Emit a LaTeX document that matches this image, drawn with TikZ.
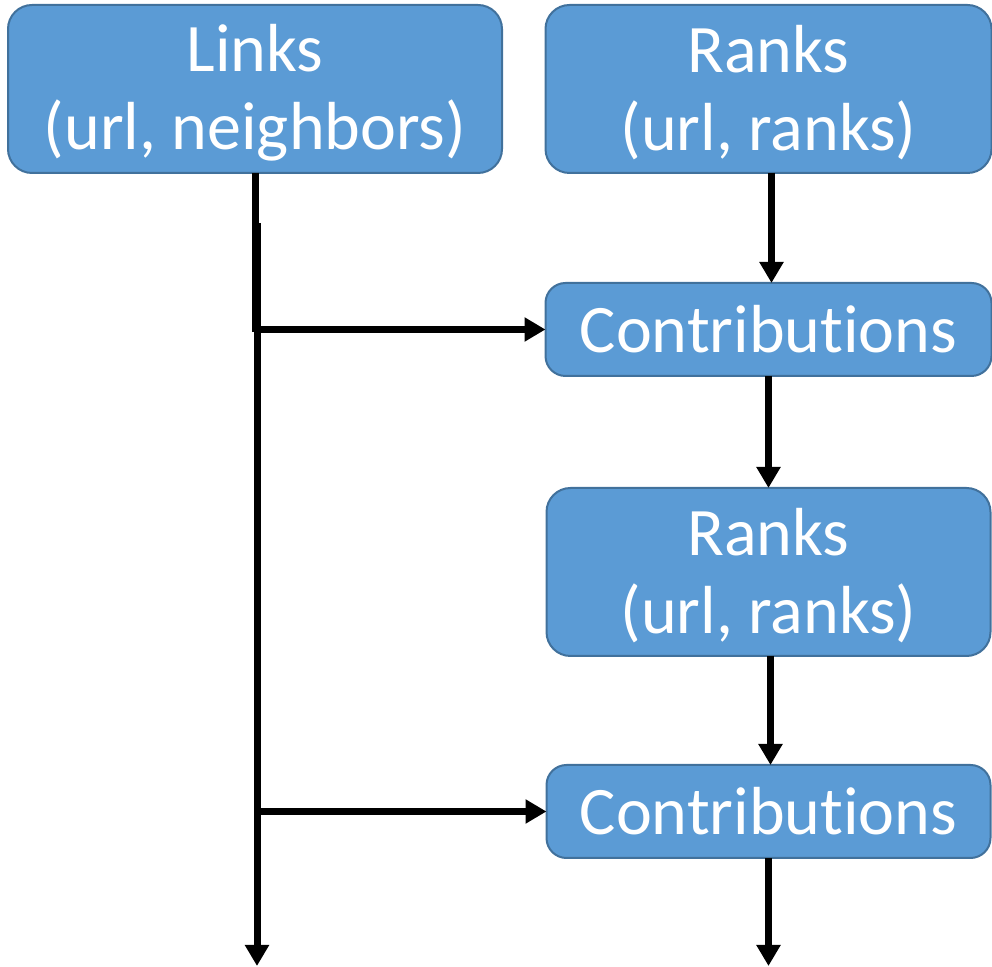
\documentclass[tikz,border=0pt]{standalone}
\usepackage{fontspec}
\setmainfont{Carlito}[Ligatures=NoCommon]
\usepackage{tikz}
\usetikzlibrary{arrows.meta,positioning,calc}
\definecolor{boxfill}{RGB}{91,155,213}
\definecolor{boxline}{RGB}{65,113,156}
\newcommand{\headstrut}{\rule{0pt}{27.5pt}}

\begin{document}
\begin{tikzpicture}[
    node distance=55pt,
    dataset/.style={draw=boxline, line width=1pt, fill=boxfill, rounded corners=12pt,
        text=white, align=center, inner sep=0pt, outer sep=0pt,
        font=\fontsize{34pt}{39pt}\selectfont},
    bigset/.style={dataset, minimum height=84pt},
    smallset/.style={dataset, minimum height=46.5pt, rounded corners=10pt},
    line/.style={line width=3.5pt},
    arrow/.style={line, -{Triangle[width=11.5pt,length=10.5pt]}}
]
    \useasboundingbox (0,0) rectangle (496pt,-483.5pt);

    % Input datasets
    \node[bigset, minimum width=247pt] (links) at (127.5pt,-44.5pt) {\headstrut Links\\(url, neighbors)};
    \node[bigset, minimum width=223pt] (ranks1) at (384.25pt,-44.5pt) {\headstrut Ranks\\(url, ranks)};

    % First iteration
    \node[smallset, minimum width=223pt, below=of ranks1] (contribs1) {Contributions};
    \node[bigset, minimum width=222pt, below=56pt of contribs1] (ranks2) {\headstrut Ranks\\(url, ranks)};

    % Second iteration
    \node[smallset, minimum width=222pt, below=54.5pt of ranks2] (contribs2) {Contributions};

    % Trunk of links
    \coordinate (trunktop) at ([xshift=1pt,yshift=-25pt]links.south);
    \coordinate (trunkend) at ($(trunktop |- 0,-483.5pt)+(0,0.5pt)$);
    \coordinate (ranksend) at ($(contribs2.south |- 0,-483.5pt)+(0,0.5pt)$);
    \draw[line] (links.south) -- ([yshift=-1.5pt]links.south |- contribs1.west);
    \draw[arrow] (trunktop) -- (trunkend);

    % Connections
    \draw[arrow] ([xshift=-1pt]trunktop |- contribs1.west) -- (contribs1.west);
    \draw[arrow] ([xshift=-1pt]trunktop |- contribs2.west) -- (contribs2.west);
    \draw[arrow] ([xshift=1.5pt]ranks1.south) -- ([xshift=1.5pt]contribs1.north);
    \draw[arrow] (contribs1) -- (ranks2);
    \draw[arrow] ([xshift=1pt]ranks2.south) -- ([xshift=1pt]contribs2.north);
    \draw[arrow] (contribs2) -- (ranksend);
\end{tikzpicture}
\end{document}
